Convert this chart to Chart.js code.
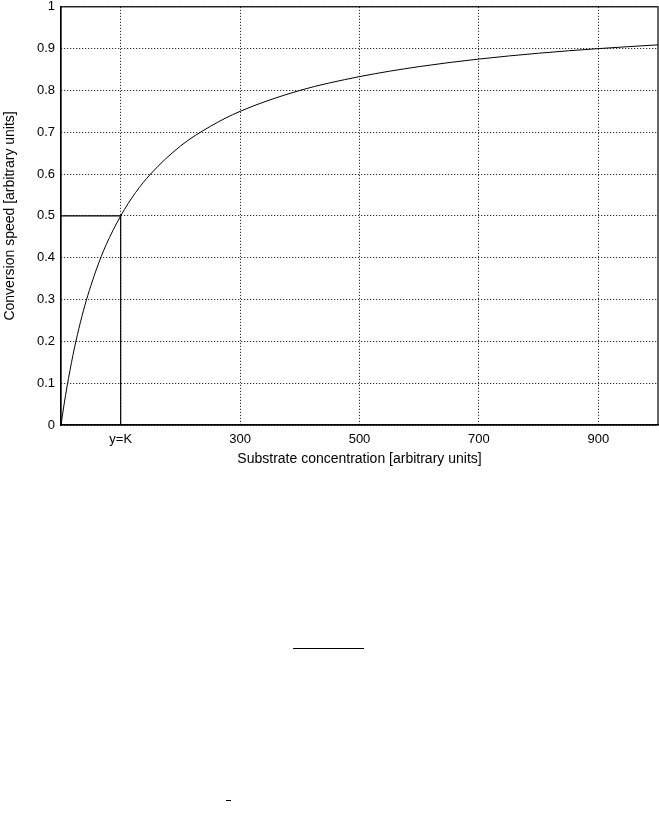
<!DOCTYPE html>
<html>
<head>
<meta charset="utf-8">
<script src="https://cdn.jsdelivr.net/npm/chart.js@4/dist/chart.umd.min.js"></script>
<style>
  body { margin: 0; background: #fff; }
  #wrap { position: relative; width: 659px; height: 829px; overflow: hidden; }
  #box { position: absolute; left: 0; top: -7px; width: 659px; height: 482px; }
  .mark { position: absolute; background: #000; }
</style>
</head>
<body>
<div id="wrap">
  <div id="box"><canvas id="speedChart"></canvas></div>
  <div class="mark" style="left:293px; top:648px; width:71px; height:1px;"></div>
  <div class="mark" style="left:226px; top:800px; width:5px; height:1px;"></div>
</div>
<script>
// substrate concentration and conversion speed
let substrate = [0, 5, 10, 20, 30, 40, 50, 60, 75, 100, 125, 150, 200, 250, 300, 400, 500, 600, 700, 800, 900, 1000]
let speed = [0, 0.048, 0.091, 0.167, 0.231, 0.286, 0.333, 0.375, 0.429, 0.5, 0.556, 0.6, 0.667, 0.714, 0.75, 0.8, 0.833, 0.857, 0.875, 0.889, 0.9, 0.909]

// the K marker lines
let kX = [0, 100, 100]
let kY = [0.5, 0.5, 0]

let xTicks = [100, 300, 500, 700, 900]
let xTickLabels = ["y=K", "300", "500", "700", "900"]
let yTicks = [0, 0.1, 0.2, 0.3, 0.4, 0.5, 0.6, 0.7, 0.8, 0.9, 1]

let tickFont = { family: "'Liberation Sans', Arial, sans-serif", size: 13 }
let titleFont = { family: "'Liberation Sans', Arial, sans-serif", size: 14 }

let chartArea = document.getElementById("speedChart").getContext('2d')
let myChart = new Chart(chartArea, {
    type: "scatter",
    data: {
        datasets: [
            {
                label: "speed",
                data: substrate.map((x, i) => ({ x: x, y: speed[i] })),
                showLine: true,
                borderColor: "#000",
                borderWidth: 1,
                pointRadius: 0,
                cubicInterpolationMode: "monotone"
            },
            {
                label: "K",
                data: kX.map((x, i) => ({ x: x, y: kY[i] })),
                showLine: true,
                borderColor: "#000",
                borderWidth: 1.2,
                pointRadius: 0,
                tension: 0
            }
        ]
    },
    options: {
        responsive: true,
        maintainAspectRatio: false,
        animation: false,
        layout: { padding: { top: 0, right: 1 } },
        plugins: {
            legend: { display: false },
            tooltip: { enabled: false }
        },
        scales: {
            x: {
                type: "linear",
                min: 0,
                max: 1000,
                afterBuildTicks: (scale) => { scale.ticks = xTicks.map(v => ({ value: v })) },
                afterFit: (scale) => { scale.height = 50 },
                ticks: {
                    color: "#000",
                    font: tickFont,
                    padding: 7,
                    maxRotation: 0,
                    callback: (v) => xTickLabels[xTicks.indexOf(v)]
                },
                grid: { color: "#000", lineWidth: 1, drawTicks: false },
                border: { display: true, color: "#000", width: 1.2, dash: [1, 2] },
                title: {
                    display: true,
                    text: "Substrate concentration [arbitrary units]",
                    color: "#000",
                    font: titleFont,
                    padding: { top: 0, bottom: 7 }
                }
            },
            y: {
                min: 0,
                max: 1,
                afterBuildTicks: (scale) => { scale.ticks = yTicks.map(v => ({ value: v })) },
                afterFit: (scale) => { scale.width = 61 },
                ticks: {
                    color: "#000",
                    font: tickFont,
                    padding: 6,
                    callback: (v) => String(v)
                },
                grid: { color: "#000", lineWidth: 1, drawTicks: false },
                border: { display: true, color: "#000", width: 1.2, dash: [1, 2] },
                title: {
                    display: true,
                    text: "Conversion speed [arbitrary units]",
                    color: "#000",
                    font: titleFont,
                    padding: { top: 2, bottom: 2 }
                }
            }
        }
    },
    plugins: [{
        id: "frame",
        afterDraw(chart) {
            // solid box round the plot
            let a = chart.chartArea
            let ctx = chart.ctx
            ctx.save()
            ctx.strokeStyle = "#000"
            ctx.lineWidth = 1.2
            ctx.setLineDash([])
            ctx.strokeRect(a.left, a.top, a.right - a.left, a.bottom - a.top)
            ctx.restore()
        }
    }]
})
</script>
</body>
</html>
